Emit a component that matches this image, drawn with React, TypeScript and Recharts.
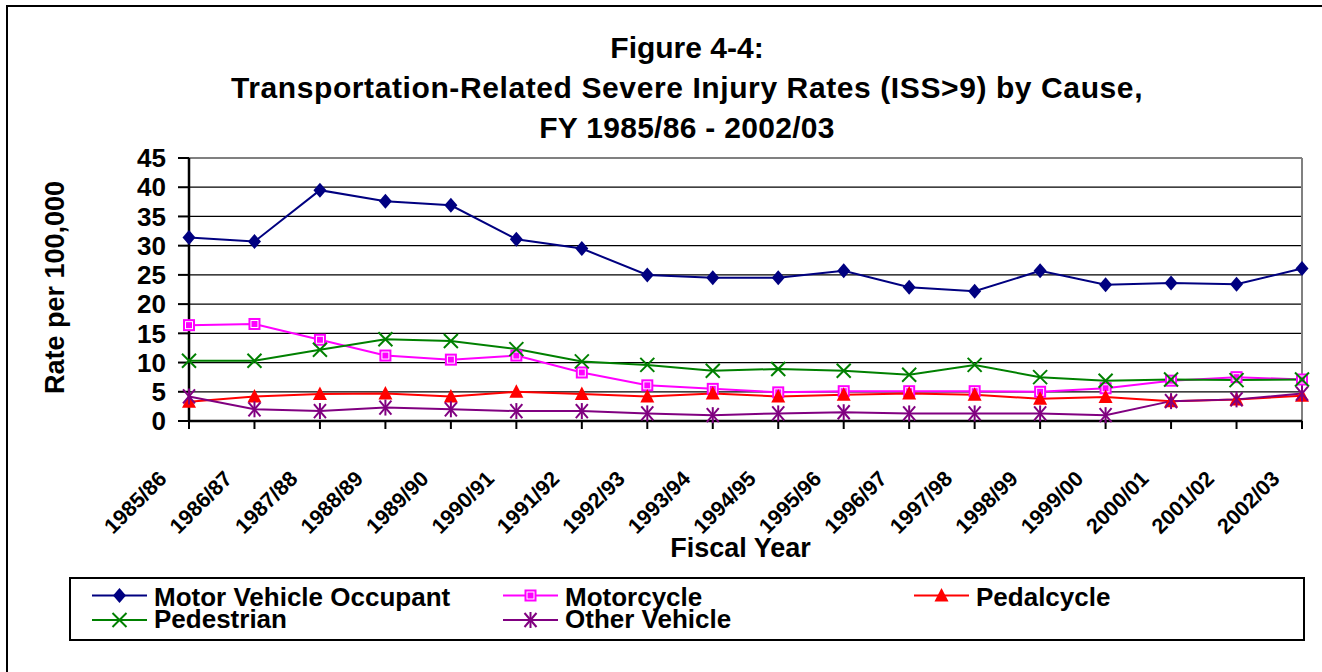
import { LineChart, Line, XAxis, YAxis, CartesianGrid, Legend, ReferenceLine } from 'recharts'

const YEARS = [
  '1985/86', '1986/87', '1987/88', '1988/89', '1989/90', '1990/91', '1991/92', '1992/93', '1993/94',
  '1994/95', '1995/96', '1996/97', '1997/98', '1998/99', '1999/00', '2000/01', '2001/02', '2002/03',
]
const MOTOR_VEHICLE = [31.4, 30.7, 39.5, 37.6, 36.9, 31.1, 29.5, 25.0, 24.5, 24.5, 25.7, 22.9, 22.2, 25.7, 23.3, 23.6, 23.4, 26.1]
const MOTORCYCLE = [16.4, 16.6, 13.9, 11.2, 10.5, 11.2, 8.3, 6.1, 5.5, 4.9, 5.1, 5.1, 5.1, 5.0, 5.6, 6.9, 7.5, 7.1]
const PEDALCYCLE = [3.3, 4.2, 4.6, 4.7, 4.2, 5.0, 4.6, 4.2, 4.7, 4.2, 4.5, 4.7, 4.5, 3.8, 4.1, 3.4, 3.7, 4.3]
const PEDESTRIAN = [10.3, 10.3, 12.2, 14.0, 13.7, 12.3, 10.2, 9.6, 8.6, 8.9, 8.6, 7.9, 9.6, 7.5, 6.9, 7.1, 7.0, 7.1]
const OTHER_VEHICLE = [4.2, 2.0, 1.7, 2.3, 2.0, 1.7, 1.7, 1.3, 1.0, 1.3, 1.5, 1.3, 1.3, 1.3, 1.0, 3.4, 3.7, 4.7]
const Y_TICKS = [0, 5, 10, 15, 20, 25, 30, 35, 40, 45]
const LEGEND_ORDER = ['mvo', 'moto', 'pedal', 'ped', 'other']

const data = YEARS.map((year, i) => ({
  year,
  mvo: MOTOR_VEHICLE[i],
  moto: MOTORCYCLE[i],
  pedal: PEDALCYCLE[i],
  ped: PEDESTRIAN[i],
  other: OTHER_VEHICLE[i],
}))

const FONT = '"Liberation Sans", Arial, sans-serif'
const NAVY = '#000080'
const MAGENTA = '#FF00FF'
const RED = '#FF0000'
const GREEN = '#008000'
const PURPLE = '#800080'

// marker shapes, drawn around (cx, cy)
function Marker({ kind, cx, cy }: { kind: string; cx: number; cy: number }) {
  if (kind === 'mvo') {
    return <polygon points={`${cx},${cy - 7.5} ${cx + 6.5},${cy} ${cx},${cy + 7.5} ${cx - 6.5},${cy}`} fill={NAVY} />
  }
  if (kind === 'moto') {
    return (
      <g>
        <rect x={cx - 6} y={cy - 6} width={12} height={12} fill={MAGENTA} />
        <rect x={cx - 3.5} y={cy - 3.5} width={7} height={7} fill="none" stroke="#fff" strokeWidth={1} />
      </g>
    )
  }
  if (kind === 'pedal') {
    return <polygon points={`${cx},${cy - 7.5} ${cx + 7},${cy + 6} ${cx - 7},${cy + 6}`} fill={RED} />
  }
  if (kind === 'ped') {
    return (
      <g stroke={GREEN} strokeWidth={2}>
        <line x1={cx - 7} y1={cy - 7} x2={cx + 7} y2={cy + 7} />
        <line x1={cx - 7} y1={cy + 7} x2={cx + 7} y2={cy - 7} />
      </g>
    )
  }
  return (
    <g stroke={PURPLE} strokeWidth={2}>
      <line x1={cx - 6} y1={cy - 7} x2={cx + 6} y2={cy + 7} />
      <line x1={cx - 6} y1={cy + 7} x2={cx + 6} y2={cy - 7} />
      <line x1={cx} y1={cy - 8} x2={cx} y2={cy + 8} />
    </g>
  )
}

const makeDot = (kind: string) => (p: any) => <Marker key={`${kind}-${p.index}`} kind={kind} cx={p.cx} cy={p.cy} />

function YearTick({ x, y, payload }: any) {
  return (
    <g transform={`translate(${x - 21},${y + 49})`}>
      <text x={0} y={0} textAnchor="end" transform="rotate(-45)" fontSize={21.5} fontWeight={700} fill="#000" fontFamily={FONT}>
        {payload.value}
      </text>
    </g>
  )
}

// legend drawn as svg: 3 columns, symbols and text on slightly different row pitches like the original
function LegendBox({ payload }: any) {
  const items = [...(payload || [])].sort((a: any, b: any) => LEGEND_ORDER.indexOf(a.dataKey) - LEGEND_ORDER.indexOf(b.dataKey))
  return (
    <svg width={1236} height={64} style={{ display: 'block' }}>
      <rect x={1} y={1} width={1234} height={62} fill="#fff" stroke="#000" strokeWidth={2} />
      {items.map((e: any, i: number) => {
        const col = i % 3
        const row = Math.floor(i / 3)
        const sx = 23 + col * 411
        const sy = 18.5 + row * 24.5
        return (
          <g key={e.dataKey}>
            <line x1={sx} y1={sy} x2={sx + 55} y2={sy} stroke={e.color} strokeWidth={2} />
            <Marker kind={e.dataKey} cx={sx + 27.5} cy={sy} />
            <text x={sx + 62} y={28.5 + row * 22} fontSize={26} fontWeight={700} fontFamily={FONT} fill="#000">{e.value}</text>
          </g>
        )
      })}
    </svg>
  )
}

export default function App() {
  return (
    <div style={{ position: 'absolute', left: 0, top: 0, width: 1322, height: 672, overflow: 'hidden', background: '#fff', fontFamily: FONT }}>
      <div style={{ position: 'absolute', left: 6, top: 5, width: 1340, height: 700, border: '2px solid #000' }} />
      <div style={{ position: 'absolute', left: 187, top: 28, width: 1000, textAlign: 'center', fontSize: 30, fontWeight: 700, lineHeight: '40px', color: '#000', whiteSpace: 'nowrap' }}>
        <div>Figure 4-4:</div>
        <div style={{ letterSpacing: 0.6 }}>Transportation-Related Severe Injury Rates (ISS&gt;9) by Cause,</div>
        <div style={{ letterSpacing: 0.3 }}>FY 1985/86 - 2002/03</div>
      </div>
      <LineChart width={1322} height={672} data={data} margin={{ top: 158, right: 20, left: 69, bottom: 141 }}
        style={{ position: 'absolute', left: 0, top: 0 }}>
        <CartesianGrid vertical={false} stroke="#000" strokeWidth={1.2} horizontalValues={Y_TICKS} />
        <ReferenceLine y={45} stroke="#808080" strokeWidth={2} />
        <ReferenceLine x="2002/03" stroke="#808080" strokeWidth={2} />
        <XAxis dataKey="year" interval={0} height={110} tick={<YearTick />} tickSize={8}
          axisLine={{ stroke: '#000', strokeWidth: 2.5 }} tickLine={{ stroke: '#000', strokeWidth: 2 }}
          label={({ viewBox }: any) => (
            <text x={viewBox.x + viewBox.width / 2 - 5} y={viewBox.y + 136} textAnchor="middle"
              fontSize={27} fontWeight={700} fontFamily={FONT} fill="#000">Fiscal Year</text>
          )} />
        <YAxis domain={[0, 45]} ticks={Y_TICKS} interval={0} width={120} tickSize={11} tickMargin={12}
          axisLine={{ stroke: '#000', strokeWidth: 2.5 }} tickLine={{ stroke: '#000', strokeWidth: 2 }}
          tick={{ fontSize: 26, fontWeight: 700, fill: '#000', fontFamily: FONT }}
          label={({ viewBox }: any) => {
            const cx = viewBox.x - 14
            const cy = viewBox.y + viewBox.height / 2 - 2
            return (
              <text x={cx} y={cy} transform={`rotate(-90, ${cx}, ${cy})`} textAnchor="middle" dominantBaseline="central"
                fontSize={27} fontWeight={700} fontFamily={FONT} fill="#000">Rate per 100,000</text>
            )
          }} />
        <Legend layout="horizontal" verticalAlign="middle" align="center" content={<LegendBox />}
          wrapperStyle={{ left: 69, top: 577, width: 1236, height: 64 }} />
        <Line dataKey="mvo" name="Motor Vehicle Occupant" stroke={NAVY} strokeWidth={2} dot={makeDot('mvo')} isAnimationActive={false} />
        <Line dataKey="moto" name="Motorcycle" stroke={MAGENTA} strokeWidth={2} dot={makeDot('moto')} isAnimationActive={false} />
        <Line dataKey="pedal" name="Pedalcycle" stroke={RED} strokeWidth={2} dot={makeDot('pedal')} isAnimationActive={false} />
        <Line dataKey="ped" name="Pedestrian" stroke={GREEN} strokeWidth={2} dot={makeDot('ped')} isAnimationActive={false} />
        <Line dataKey="other" name="Other Vehicle" stroke={PURPLE} strokeWidth={2} dot={makeDot('other')} isAnimationActive={false} />
      </LineChart>
    </div>
  )
}
